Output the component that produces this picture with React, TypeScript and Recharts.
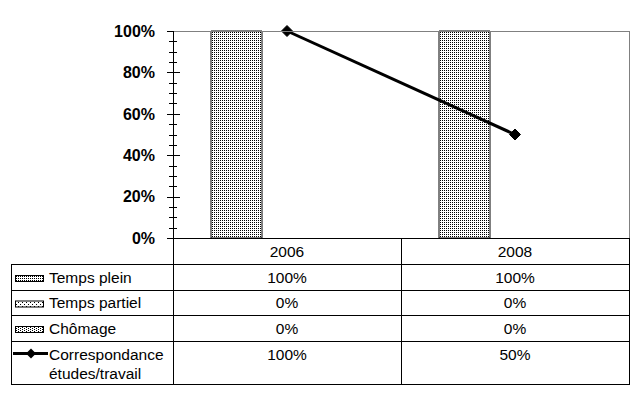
import React from 'react';
import { ComposedChart, Bar, Line, XAxis, YAxis } from 'recharts';

const categories = ['2006', '2008'];
const tempsPlein = [100, 100];
const tempsPartiel = [0, 0];
const chomage = [0, 0];
const correspondance = [100, 50];
const yTicks = [0, 5, 10, 15, 20, 25, 30, 35, 40, 45, 50, 55, 60, 65, 70, 75, 80, 85, 90, 95, 100];
const majorTicks = [0, 20, 40, 60, 80, 100];
const seriesNames = ['Temps plein', 'Temps partiel', 'Chômage', 'Correspondance', 'études/travail'];

const data = categories.map((c, i) => ({
  year: c,
  plein: tempsPlein[i],
  partiel: tempsPartiel[i],
  chomage: chomage[i],
  corr: correspondance[i],
}));

const FONT = '"Liberation Sans", Arial, sans-serif';
const FS = 15.5;
const AX = 173;
const RIGHT = 629;
const TOP = 31;
const BASE = 238;
const LEFT = 11;
const BOTTOM = 384;
const rowLines = [264, 290, 315, 341];
const rowCenters = [251, 277, 302.5, 328, 354];

const pct = (v: number) => `${v}%`;

const YTick = (props: any) => {
  const { y, payload } = props;
  const v = payload.value as number;
  const major = majorTicks.includes(v);
  const yy = Math.round(y) + 0.5;
  return (
    <g>
      <line x1={major ? 167 : 169} x2={major ? 180 : 177} y1={yy} y2={yy} stroke="#000" strokeWidth={1} />
      {major && (
        <text x={155} y={y} dy="0.36em" textAnchor="end" fontWeight="bold" fontSize={16} fontFamily={FONT} fill="#000">
          {pct(v)}
        </text>
      )}
    </g>
  );
};

const XTick = (props: any) => {
  const { x, payload } = props;
  const i = payload.index as number;
  const vals = [categories[i], pct(tempsPlein[i]), pct(tempsPartiel[i]), pct(chomage[i]), pct(correspondance[i])];
  return (
    <g>
      {vals.map((t, k) => (
        <text key={k} x={x} y={rowCenters[k]} dy="0.36em" textAnchor="middle" fontSize={FS} fontFamily={FONT} fill="#000">
          {t}
        </text>
      ))}
    </g>
  );
};

const Diamond = (props: any) => {
  const { cx, cy } = props;
  if (cx == null || cy == null) return null;
  const r = 5.5;
  return <path d={`M${cx},${cy - r}L${cx + r},${cy}L${cx},${cy + r}L${cx - r},${cy}Z`} fill="#000" stroke="#000" />;
};

export default function App() {
  return (
    <div style={{ position: 'absolute', left: 0, top: 0, width: 639, height: 399, background: '#fff' }}>
      <svg width={0} height={0} style={{ position: 'absolute' }}>
        <defs>
          <pattern id="pPlein" width={2} height={2} patternUnits="userSpaceOnUse">
            <rect width={2} height={2} fill="#fff" />
            <rect width={1} height={1} fill="#000" />
          </pattern>
          <pattern id="pPartiel" width={4} height={4} patternUnits="userSpaceOnUse">
            <rect width={4} height={4} fill="#fff" />
            <rect x={0} y={0} width={1} height={1} fill="#000" />
            <rect x={2} y={2} width={1} height={1} fill="#000" />
          </pattern>
          <pattern id="pChom" width={4} height={2} patternUnits="userSpaceOnUse">
            <rect width={4} height={2} fill="#fff" />
            <rect x={0} y={0} width={1} height={1} fill="#000" />
            <rect x={2} y={1} width={1} height={1} fill="#000" />
          </pattern>
        </defs>
      </svg>
      <ComposedChart
        width={639}
        height={399}
        data={data}
        margin={{ top: TOP, right: 639 - RIGHT, bottom: 399 - BOTTOM, left: 0 }}
        barGap={0}
      >
        <XAxis
          dataKey="year"
          type="category"
          height={BOTTOM - BASE}
          axisLine={false}
          tickLine={false}
          interval={0}
          tick={<XTick />}
        />
        <YAxis
          width={AX}
          domain={[0, 100]}
          ticks={yTicks}
          interval={0}
          axisLine={false}
          tickLine={false}
          tick={<YTick />}
        />
        <Bar dataKey="plein" barSize={51} fill="url(#pPlein)" stroke="#000" strokeWidth={1} isAnimationActive={false} />
        <Bar dataKey="partiel" barSize={51} fill="url(#pPartiel)" stroke="#000" strokeWidth={1} isAnimationActive={false} />
        <Bar dataKey="chomage" barSize={51} fill="url(#pChom)" stroke="#000" strokeWidth={1} isAnimationActive={false} />
        <Line dataKey="corr" stroke="#000" strokeWidth={3} dot={<Diamond />} activeDot={false} isAnimationActive={false} />
      </ComposedChart>
      <svg width={639} height={399} style={{ position: 'absolute', left: 0, top: 0, pointerEvents: 'none' }}>
        <line x1={AX} x2={RIGHT + 0.5} y1={TOP + 0.5} y2={TOP + 0.5} stroke="#808080" />
        <line x1={RIGHT + 0.5} x2={RIGHT + 0.5} y1={TOP} y2={BASE} stroke="#808080" />
        <line x1={AX + 0.5} x2={AX + 0.5} y1={TOP} y2={BOTTOM + 1} stroke="#000" />
        <line x1={AX} x2={RIGHT + 1} y1={BASE + 0.5} y2={BASE + 0.5} stroke="#000" />
        <line x1={RIGHT + 0.5} x2={RIGHT + 0.5} y1={BASE} y2={BOTTOM + 1} stroke="#000" />
        <line x1={401.5} x2={401.5} y1={BASE} y2={BOTTOM + 1} stroke="#000" />
        <line x1={LEFT + 0.5} x2={LEFT + 0.5} y1={rowLines[0]} y2={BOTTOM + 1} stroke="#000" />
        {rowLines.map((ly) => (
          <line key={ly} x1={LEFT} x2={RIGHT + 1} y1={ly + 0.5} y2={ly + 0.5} stroke="#000" />
        ))}
        <line x1={LEFT} x2={RIGHT + 1} y1={BOTTOM + 0.5} y2={BOTTOM + 0.5} stroke="#000" />
        <rect x={15.5} y={275.5} width={28} height={6} fill="url(#pPlein)" stroke="#000" />
        <rect x={15.5} y={301} width={28} height={6} fill="url(#pPartiel)" stroke="#000" />
        <rect x={15.5} y={326.5} width={28} height={6} fill="url(#pChom)" stroke="#000" />
        <line x1={13} x2={48} y1={353.5} y2={353.5} stroke="#000" strokeWidth={3} />
        <path d="M31,348.5L36,353.5L31,358.5L26,353.5Z" fill="#000" />
        <text x={49} y={rowCenters[1]} dy="0.36em" fontSize={FS} fontFamily={FONT} fill="#000">{seriesNames[0]}</text>
        <text x={49} y={rowCenters[2]} dy="0.36em" fontSize={FS} fontFamily={FONT} fill="#000">{seriesNames[1]}</text>
        <text x={49} y={rowCenters[3]} dy="0.36em" fontSize={FS} fontFamily={FONT} fill="#000">{seriesNames[2]}</text>
        <text x={49} y={rowCenters[4]} dy="0.36em" fontSize={FS} fontFamily={FONT} fill="#000">{seriesNames[3]}</text>
        <text x={49} y={373} dy="0.36em" fontSize={FS} fontFamily={FONT} fill="#000">{seriesNames[4]}</text>
      </svg>
    </div>
  );
}
